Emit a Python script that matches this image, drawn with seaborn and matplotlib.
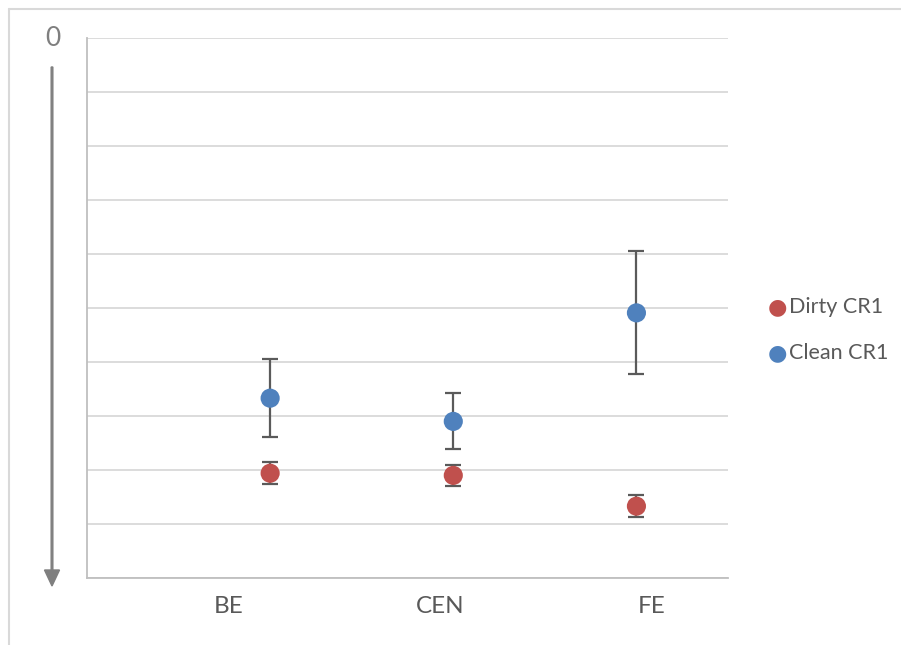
import matplotlib
matplotlib.use("Agg")
import matplotlib.pyplot as plt
import seaborn as sns
import pandas as pd

# Positions along the structure and measured means with their spread
locations = ["BE", "CEN", "FE"]
x_pos = [1, 2, 3]
label_pos = [0.775, 1.927, 3.085]
series_names = ["Dirty CR1", "Clean CR1"]
dirty_mean = [8.06, 8.10, 8.67]
dirty_err = [0.20, 0.20, 0.20]
clean_mean = [6.67, 7.10, 5.09]
clean_err = [0.72, 0.52, 1.14]
y_ticks = [0, 1, 2, 3, 4, 5, 6, 7, 8, 9, 10]

colors = {"Dirty CR1": "#C0504D", "Clean CR1": "#4F81BD"}
text_grey = "#595959"

sns.set_theme(style="white")
plt.rcParams["font.family"] = ["Lato", "DejaVu Sans"]

df = pd.DataFrame({
    "x": x_pos * 2,
    "value": dirty_mean + clean_mean,
    "err": dirty_err + clean_err,
    "series": [series_names[0]] * 3 + [series_names[1]] * 3,
})

fig = plt.figure(figsize=(9.01, 6.45), dpi=100)
ax = fig.add_axes([87 / 901, 1 - 578 / 645, (728 - 87) / 901, (578 - 38) / 645])

# error bars first so markers sit on top
for name in series_names:
    sub = df[df["series"] == name]
    ax.errorbar(sub["x"], sub["value"], yerr=sub["err"], fmt="none",
                ecolor="#5a5a5a", elinewidth=1.6, capsize=5.5, capthick=1.6, zorder=2)

sns.scatterplot(data=df, x="x", y="value", hue="series", palette=colors,
                hue_order=series_names, s=190, edgecolor="none", zorder=3,
                legend=False, ax=ax)

ax.set_xlim(0, 3.5)
ax.set_ylim(10, 0)
ax.set_yticks(y_ticks)
ax.set_yticklabels([])
ax.yaxis.grid(True, color="#D9D9D9", linewidth=1.3)
ax.xaxis.grid(False)
ax.set_xticks(label_pos)
ax.set_xticklabels(locations, fontsize=17.5, color=text_grey)
ax.tick_params(axis="both", length=0, pad=13)
ax.set_xlabel("")
ax.set_ylabel("")
for side in ["top", "right"]:
    ax.spines[side].set_visible(False)
for side in ["left", "bottom"]:
    ax.spines[side].set_color("#BFBFBF")
    ax.spines[side].set_linewidth(1.3)

# depth direction: zero at the top, arrow pointing down
fig.text(53 / 901, 1 - 39 / 645, "0", fontsize=19, color="#7f7f7f",
         ha="center", va="center")
fig.patches.append(matplotlib.patches.FancyArrow(
    52 / 901, 1 - 67 / 645, 0, -(586 - 67) / 645, width=1.2 / 645,
    head_width=15 / 901, head_length=16 / 645, length_includes_head=True,
    color="#7f7f7f", transform=fig.transFigure, figure=fig))

# legend on the right
for name, ly in zip(series_names, [307, 353]):
    fig.text(777 / 901, 1 - ly / 645, "\u25CF", fontsize=16, color=colors[name],
             ha="center", va="center", family=["DejaVu Sans"])
    fig.text(789 / 901, 1 - ly / 645, name, fontsize=15.5, color=text_grey,
             ha="left", va="center")

# chart frame
fig.add_artist(matplotlib.lines.Line2D([9 / 901, 1], [1 - 9 / 645] * 2,
               transform=fig.transFigure, color="#D9D9D9", linewidth=1.5))
fig.add_artist(matplotlib.lines.Line2D([9 / 901] * 2, [0, 1 - 9 / 645],
               transform=fig.transFigure, color="#D9D9D9", linewidth=1.5))

fig.savefig("out.png", dpi=100, facecolor="white")
